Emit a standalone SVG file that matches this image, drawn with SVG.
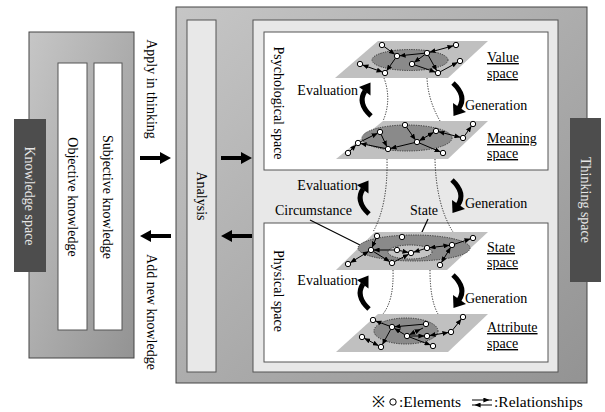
<svg xmlns="http://www.w3.org/2000/svg" width="605" height="412" viewBox="0 0 605 412" font-family="'Liberation Serif', 'DejaVu Serif', serif">
<style>
text{font-family:'Liberation Serif','DejaVu Serif',serif;font-size:14px;fill:#000}
.panel{stroke:#444;stroke-width:1}
.box{fill:#fff;stroke:#555;stroke-width:1}
.light{fill:#e8e8e8;stroke:#555;stroke-width:1}
.dark{fill:#4d4d4d}
.dtext{fill:#e6e6e6}
.plane{fill:#c0c0c0}
.ell{fill:#8a8a8a;stroke:#333;stroke-width:1;stroke-dasharray:1.2 1.2}
.ell2{fill:#c4c4c4;stroke:#333;stroke-width:1;stroke-dasharray:1.2 1.2}
.dot{fill:none;stroke:#222;stroke-width:1;stroke-dasharray:1.2 1.4}
.e{stroke:#000;stroke-width:1;fill:none;marker-end:url(#ah)}
.e2{stroke:#000;stroke-width:1;fill:none;marker-end:url(#ah);marker-start:url(#ah)}
.n{fill:#fff;stroke:#000;stroke-width:1}
.ul{text-decoration:underline}
.lead{stroke:#000;stroke-width:1.2}
.lg{font-size:15.5px}
</style>
<defs>
<linearGradient id="gp" x1="0" y1="0" x2="1" y2="1">
<stop offset="0" stop-color="#c6c6c6"/>
<stop offset="1" stop-color="#939393"/>
</linearGradient>
<marker id="ah" viewBox="0 0 6 5" refX="8.6" refY="2.5" markerWidth="6" markerHeight="5" markerUnits="userSpaceOnUse" orient="auto-start-reverse">
<path d="M0,0 L6,2.5 L0,5 z" fill="#000"/>
</marker>
<g id="evalArrow">
<path d="M8 33 Q-6 20 2 8" fill="none" stroke="#000" stroke-width="5"/>
<polygon points="7.5,-0.5 -4,4 7.5,12.5" fill="#000"/>
</g>
<g id="genArrow">
<path d="M0 0 Q14 13 6 25" fill="none" stroke="#000" stroke-width="5"/>
<polygon points="0.5,33 13,29 0,20" fill="#000"/>
</g>
<g id="bigRight"><polygon points="0,-2 20,-2 20,-6 31,0 20,6 20,2 0,2" fill="#000"/></g>
<g id="bigLeft"><polygon points="31,-2 11,-2 11,-6 0,0 11,6 11,2 31,2" fill="#000"/></g>
</defs>

<g id="knowledge-panel">
<rect class="panel" x="29" y="32" width="105" height="326" fill="url(#gp)"/>
</g>
<g id="objective-knowledge">
<rect class="box" x="58" y="63" width="29" height="267"/>
<text transform="translate(72.5,197) rotate(90)" text-anchor="middle" dy="5">Objective knowledge</text>
</g>
<g id="subjective-knowledge">
<rect class="box" x="94" y="63" width="28" height="267"/>
<text transform="translate(108,197) rotate(90)" text-anchor="middle" dy="5">Subjective knowledge</text>
</g>
<g id="knowledge-space">
<rect class="dark" x="14" y="119" width="32" height="153"/>
<text class="dtext" transform="translate(30,196) rotate(90)" text-anchor="middle" dy="5">Knowledge space</text>
</g>

<g id="thinking-panel">
<rect class="panel" x="176" y="7" width="411" height="376" fill="url(#gp)"/>
<rect class="light" x="253" y="20" width="305" height="352"/>
</g>
<g id="analysis">
<rect class="light" x="187" y="20" width="29" height="352"/>
<text transform="translate(201.5,196) rotate(90)" text-anchor="middle" dy="5">Analysis</text>
</g>
<g id="thinking-space">
<rect class="dark" x="570" y="118" width="31" height="164"/>
<text class="dtext" transform="translate(585.5,200) rotate(90)" text-anchor="middle" dy="5">Thinking space</text>
</g>

<g id="psychological-space">
<rect class="box" x="264" y="32" width="284" height="138"/>
<text transform="translate(279,103) rotate(90)" text-anchor="middle" dy="5">Psychological space</text>
</g>
<g id="physical-space">
<rect class="box" x="264" y="223" width="284" height="139"/>
<text transform="translate(279,291) rotate(90)" text-anchor="middle" dy="5">Physical space</text>
</g>

<g id="connectors">
<use href="#bigRight" x="140" y="158"/>
<use href="#bigLeft" x="140" y="236"/>
<use href="#bigRight" x="221" y="158"/>
<use href="#bigLeft" x="221" y="236"/>
<text transform="translate(152,89) rotate(90)" text-anchor="middle" dy="5">Apply in thinking</text>
<text transform="translate(152,312) rotate(90)" text-anchor="middle" dy="5">Add new knowledge</text>
<use href="#evalArrow" x="363" y="83"/>
<use href="#genArrow" x="453" y="83"/>
<use href="#evalArrow" x="361" y="181"/>
<use href="#genArrow" x="452" y="180"/>
<use href="#evalArrow" x="361" y="276"/>
<use href="#genArrow" x="453" y="275"/>
<path class="dot" d="M384 78 Q392 100 383 121"/>
<path class="dot" d="M427 78 Q428 100 440 121"/>
<path class="dot" d="M387 159 Q388 205 373 232"/>
<path class="dot" d="M435 159 Q436 205 453 232"/>
<path class="dot" d="M393 270 Q394 300 383 314"/>
<path class="dot" d="M430 270 Q430 300 438 314"/>
<line class="lead" x1="310" y1="220" x2="366" y2="248"/>
<line class="lead" x1="428" y1="219" x2="416" y2="245"/>
</g>

<g id="labels">
<text x="358" y="95" text-anchor="end">Evaluation</text>
<text x="465" y="110">Generation</text>
<text x="358" y="190" text-anchor="end">Evaluation</text>
<text x="465" y="208">Generation</text>
<text x="275" y="215">Circumstance</text>
<text x="410" y="215">State</text>
<text x="358" y="285" text-anchor="end">Evaluation</text>
<text x="465" y="303">Generation</text>
</g>

<g id="value-space">
<polygon class="plane" points="378,41 488,41 448,78 335,78"/>
<ellipse class="ell" cx="410" cy="60" rx="38" ry="10.5"/>
<line class="e" x1="382" y1="45" x2="397" y2="56"/>
<line class="e" x1="427" y1="53" x2="397" y2="56"/>
<line class="e2" x1="427" y1="53" x2="456" y2="45"/>
<line class="e" x1="397" y1="56" x2="385" y2="73"/>
<line class="e" x1="427" y1="53" x2="412" y2="64"/>
<line class="e" x1="427" y1="53" x2="438" y2="73"/>
<line class="e" x1="412" y1="64" x2="438" y2="73"/>
<line class="e2" x1="360" y1="64" x2="385" y2="73"/>
<line class="e" x1="438" y1="73" x2="460" y2="61"/>
<circle class="n" cx="382" cy="45" r="2.7"/>
<circle class="n" cx="456" cy="45" r="2.7"/>
<circle class="n" cx="397" cy="56" r="2.7"/>
<circle class="n" cx="427" cy="53" r="2.7"/>
<circle class="n" cx="412" cy="64" r="2.7"/>
<circle class="n" cx="360" cy="64" r="2.7"/>
<circle class="n" cx="385" cy="73" r="2.7"/>
<circle class="n" cx="438" cy="73" r="2.7"/>
<circle class="n" cx="460" cy="61" r="2.7"/>
<text class="ul" x="487" y="62">Value</text>
<text class="ul" x="487" y="78">space</text>
</g>

<g id="meaning-space">
<polygon class="plane" points="383,121 488,121 448,159 336,159"/>
<ellipse class="ell" cx="407" cy="138" rx="45" ry="13"/>
<line class="e" x1="358" y1="143" x2="380" y2="132"/>
<line class="e" x1="388" y1="149" x2="358" y2="143"/>
<line class="e" x1="380" y1="132" x2="388" y2="149"/>
<line class="e" x1="405" y1="125" x2="417" y2="142"/>
<line class="e2" x1="417" y1="142" x2="436" y2="131"/>
<line class="e2" x1="436" y1="131" x2="463" y2="138"/>
<line class="e" x1="463" y1="138" x2="473" y2="124"/>
<line class="e" x1="417" y1="142" x2="388" y2="149"/>
<line class="e" x1="417" y1="142" x2="443" y2="153"/>
<line class="e" x1="348" y1="153" x2="358" y2="143"/>
<circle class="n" cx="380" cy="132" r="2.7"/>
<circle class="n" cx="405" cy="125" r="2.7"/>
<circle class="n" cx="436" cy="131" r="2.7"/>
<circle class="n" cx="473" cy="124" r="2.7"/>
<circle class="n" cx="463" cy="138" r="2.7"/>
<circle class="n" cx="358" cy="143" r="2.7"/>
<circle class="n" cx="417" cy="142" r="2.7"/>
<circle class="n" cx="388" cy="149" r="2.7"/>
<circle class="n" cx="443" cy="153" r="2.7"/>
<circle class="n" cx="348" cy="153" r="2.7"/>
<text class="ul" x="487" y="143">Meaning</text>
<text class="ul" x="487" y="158">space</text>
</g>

<g id="state-space">
<polygon class="plane" points="375,232 488,232 447,270 336,270"/>
<ellipse class="ell" cx="414" cy="248" rx="56" ry="13"/>
<ellipse class="ell2" cx="410" cy="252" rx="22" ry="7"/>
<line class="e" x1="397" y1="250" x2="371" y2="250"/>
<line class="e" x1="397" y1="250" x2="411" y2="253"/>
<line class="e" x1="427" y1="248" x2="411" y2="253"/>
<line class="e2" x1="427" y1="248" x2="452" y2="245"/>
<line class="e" x1="452" y1="245" x2="473" y2="238"/>
<line class="e2" x1="371" y1="250" x2="348" y2="264"/>
<line class="e" x1="371" y1="250" x2="392" y2="263"/>
<line class="e" x1="392" y1="263" x2="411" y2="253"/>
<line class="e2" x1="440" y1="265" x2="452" y2="245"/>
<line class="e" x1="377" y1="236" x2="371" y2="250"/>
<circle class="n" cx="377" cy="236" r="2.7"/>
<circle class="n" cx="402" cy="237" r="2.7"/>
<circle class="n" cx="371" cy="250" r="2.7"/>
<circle class="n" cx="397" cy="250" r="2.7"/>
<circle class="n" cx="411" cy="253" r="2.7"/>
<circle class="n" cx="427" cy="248" r="2.7"/>
<circle class="n" cx="452" cy="245" r="2.7"/>
<circle class="n" cx="473" cy="238" r="2.7"/>
<circle class="n" cx="392" cy="263" r="2.7"/>
<circle class="n" cx="348" cy="264" r="2.7"/>
<circle class="n" cx="440" cy="265" r="2.7"/>
<text class="ul" x="487" y="252">State</text>
<text class="ul" x="487" y="267">space</text>
</g>

<g id="attribute-space">
<polygon class="plane" points="378,314 488,314 448,352 336,352"/>
<ellipse class="ell" cx="406" cy="331" rx="32" ry="13"/>
<line class="e" x1="426" y1="324" x2="392" y2="327"/>
<line class="e" x1="392" y1="327" x2="373" y2="320"/>
<line class="e" x1="392" y1="327" x2="381" y2="347"/>
<line class="e2" x1="362" y1="337" x2="381" y2="347"/>
<line class="e" x1="407" y1="336" x2="392" y2="327"/>
<line class="e2" x1="407" y1="336" x2="423" y2="328"/>
<line class="e" x1="407" y1="336" x2="433" y2="346"/>
<line class="e" x1="407" y1="336" x2="427" y2="336"/>
<line class="e2" x1="427" y1="336" x2="451" y2="332"/>
<line class="e" x1="451" y1="332" x2="463" y2="317"/>
<circle class="n" cx="373" cy="320" r="2.7"/>
<circle class="n" cx="392" cy="327" r="2.7"/>
<circle class="n" cx="426" cy="324" r="2.7"/>
<circle class="n" cx="407" cy="336" r="2.7"/>
<circle class="n" cx="427" cy="336" r="2.7"/>
<circle class="n" cx="362" cy="337" r="2.7"/>
<circle class="n" cx="381" cy="347" r="2.7"/>
<circle class="n" cx="433" cy="346" r="2.7"/>
<circle class="n" cx="451" cy="332" r="2.7"/>
<circle class="n" cx="463" cy="317" r="2.7"/>
<text class="ul" x="487" y="332">Attribute</text>
<text class="ul" x="487" y="348">space</text>
</g>

<g id="legend">
<text class="lg" x="372" y="407">※</text>
<circle class="n" cx="393" cy="402" r="3.2"/>
<text class="lg" x="399" y="407">:Elements</text>
<line class="e" x1="472" y1="400" x2="492" y2="400"/>
<line class="e" x1="492" y1="405" x2="472" y2="405"/>
<text class="lg" x="494" y="407">:Relationships</text>
</g>
</svg>
